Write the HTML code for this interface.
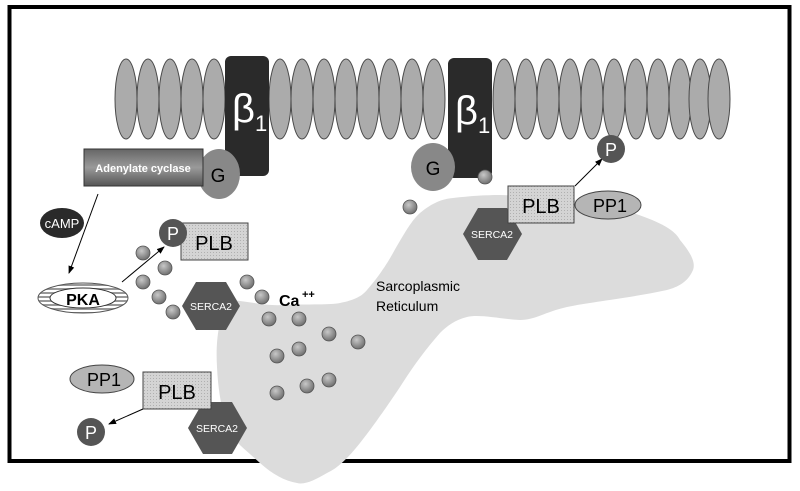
<!DOCTYPE html>
<html><head><meta charset="utf-8"><style>
html,body{margin:0;padding:0;background:#fff;}
svg{display:block;}
text{font-family:"Liberation Sans",sans-serif;}
</style></head><body>
<svg width="800" height="491" viewBox="0 0 800 491" xmlns="http://www.w3.org/2000/svg">
<defs>
<radialGradient id="ca" cx="0.4" cy="0.35" r="0.7"><stop offset="0" stop-color="#c8c8c8"/><stop offset="1" stop-color="#6a6a6a"/></radialGradient>
<linearGradient id="ac" x1="0" y1="0" x2="0" y2="1"><stop offset="0" stop-color="#666"/><stop offset="0.5" stop-color="#9a9a9a"/><stop offset="1" stop-color="#555"/></linearGradient>
<pattern id="dots" width="3" height="3" patternUnits="userSpaceOnUse"><rect width="3" height="3" fill="#d4d4d4"/><rect width="1" height="1" fill="#b0b0b0"/></pattern>
<pattern id="stripe" width="4" height="4" patternUnits="userSpaceOnUse"><rect width="4" height="4" fill="#fff"/><rect width="4" height="2" fill="#999"/></pattern>
<marker id="ar" markerWidth="8" markerHeight="8" refX="7" refY="4" orient="auto" markerUnits="userSpaceOnUse"><path d="M0,1 L8,4 L0,7 z" fill="#000"/></marker>
</defs>
<rect x="9.5" y="7" width="780" height="454" fill="#fff" stroke="#000" stroke-width="4"/>
<!-- SR blob -->
<path d="M233,300 C255,303 270,306 283,305 C310,304 330,305 340,303 C355,300 362,296 367,290 C380,275 388,262 393,253 C405,232 412,220 420,213 C432,203 442,199 453,198 C470,196 485,195 500,195 C560,197 610,203 633,213 C660,222 675,230 680,240 C690,252 696,262 693,270 C688,282 678,287 667,290 C630,298 590,302 567,307 C545,312 535,320 520,320 C500,319 480,314 467,317 C455,320 447,326 440,333 C425,350 412,368 400,387 C388,405 372,428 360,443 C348,458 338,468 327,473 C315,480 305,485 297,483 C285,481 272,474 260,463 C248,452 236,443 230,433 C222,415 218,390 217,367 C216,350 217,335 220,323 C222,312 226,303 233,300 Z" fill="#dcdcdc"/>
<!-- membrane -->
<g fill="#ababab" stroke="#4a4a4a" stroke-width="1">
<ellipse cx="126" cy="99" rx="11" ry="40"/><ellipse cx="148" cy="99" rx="11" ry="40"/><ellipse cx="170" cy="99" rx="11" ry="40"/><ellipse cx="192" cy="99" rx="11" ry="40"/><ellipse cx="214" cy="99" rx="11" ry="40"/><ellipse cx="280" cy="99" rx="11" ry="40"/><ellipse cx="302" cy="99" rx="11" ry="40"/><ellipse cx="324" cy="99" rx="11" ry="40"/><ellipse cx="346" cy="99" rx="11" ry="40"/><ellipse cx="368" cy="99" rx="11" ry="40"/><ellipse cx="390" cy="99" rx="11" ry="40"/><ellipse cx="412" cy="99" rx="11" ry="40"/><ellipse cx="434" cy="99" rx="11" ry="40"/><ellipse cx="504" cy="99" rx="11" ry="40"/><ellipse cx="526" cy="99" rx="11" ry="40"/><ellipse cx="548" cy="99" rx="11" ry="40"/><ellipse cx="570" cy="99" rx="11" ry="40"/><ellipse cx="592" cy="99" rx="11" ry="40"/><ellipse cx="614" cy="99" rx="11" ry="40"/><ellipse cx="636" cy="99" rx="11" ry="40"/><ellipse cx="658" cy="99" rx="11" ry="40"/><ellipse cx="680" cy="99" rx="11" ry="40"/><ellipse cx="700" cy="99" rx="11" ry="40"/><ellipse cx="719" cy="99" rx="11" ry="40"/>
</g>
<!-- beta receptors -->
<rect x="225" y="56" width="44" height="120" rx="6" fill="#2a2a2a"/>
<text x="232" y="122" font-family="Liberation Serif,serif" font-size="40" fill="#fff">β</text><text x="255" y="131" font-family="Liberation Serif,serif" font-size="22" fill="#fff">1</text>
<rect x="448" y="58" width="44" height="120" rx="6" fill="#2a2a2a"/>
<text x="455" y="124" font-family="Liberation Serif,serif" font-size="40" fill="#fff">β</text><text x="478" y="133" font-family="Liberation Serif,serif" font-size="22" fill="#fff">1</text>
<!-- adenylate cyclase + G -->
<ellipse cx="219" cy="174" rx="21" ry="25" fill="#888"/>
<rect x="84" y="149" width="119" height="37" fill="url(#ac)" stroke="#333"/>
<text x="143" y="172" font-size="11" font-weight="bold" fill="#fff" text-anchor="middle">Adenylate cyclase</text>
<text x="218" y="182" font-size="19" text-anchor="middle">G</text>
<ellipse cx="433" cy="167" rx="22" ry="24" fill="#888"/>
<text x="433" y="175" font-size="19" text-anchor="middle">G</text>
<!-- cAMP / PKA -->
<ellipse cx="62" cy="223" rx="22" ry="15" fill="#2a2a2a"/>
<text x="62" y="228" font-size="13" fill="#fff" text-anchor="middle">cAMP</text>
<line x1="98" y1="194" x2="69" y2="273" stroke="#000" marker-end="url(#ar)"/>
<ellipse cx="83" cy="298" rx="45" ry="15" fill="url(#stripe)" stroke="#555"/>
<ellipse cx="83" cy="298" rx="33" ry="10" fill="#fff" stroke="#333"/>
<text x="83" y="305" font-size="16" font-weight="bold" text-anchor="middle">PKA</text>
<line x1="122" y1="282" x2="164" y2="247" stroke="#000" marker-end="url(#ar)"/>
<!-- upper-left PLB -->
<rect x="181" y="223" width="67" height="37" fill="url(#dots)" stroke="#444"/>
<text x="214" y="250" font-size="20" text-anchor="middle">PLB</text>
<circle cx="173" cy="233" r="14" fill="#555"/>
<text x="173" y="240" font-size="18" fill="#fff" text-anchor="middle">P</text>
<!-- hexes -->
<g fill="#555">
<polygon points="182,306 196,282 226,282 240,306 226,330 196,330"/>
<polygon points="463,234 478,208 507,208 522,234 507,260 478,260"/>
<polygon points="188,428 203,402 232,402 247,428 232,454 203,454"/>
</g>
<g font-size="10.5" fill="#fff" text-anchor="middle" font-family="Liberation Sans,sans-serif">
<text x="211" y="310">SERCA2</text><text x="492" y="238">SERCA2</text><text x="217" y="432">SERCA2</text>
</g>
<!-- right PLB -->
<ellipse cx="608" cy="205" rx="33" ry="14" fill="#b5b5b5" stroke="#444"/>
<text x="610" y="212" font-size="18" text-anchor="middle">PP1</text>
<rect x="508" y="186" width="66" height="37" fill="url(#dots)" stroke="#444"/>
<text x="541" y="213" font-size="20" text-anchor="middle">PLB</text>
<line x1="575" y1="186" x2="602" y2="159" stroke="#000" marker-end="url(#ar)"/>
<circle cx="611" cy="149" r="14" fill="#555"/>
<text x="611" y="156" font-size="18" fill="#fff" text-anchor="middle">P</text>
<!-- lower-left PLB -->
<ellipse cx="102" cy="379" rx="32" ry="14" fill="#b5b5b5" stroke="#444"/>
<text x="104" y="386" font-size="18" text-anchor="middle">PP1</text>
<rect x="143" y="372" width="68" height="37" fill="url(#dots)" stroke="#444"/>
<text x="177" y="399" font-size="20" text-anchor="middle">PLB</text>
<line x1="143" y1="409" x2="109" y2="424" stroke="#000" marker-end="url(#ar)"/>
<circle cx="91" cy="432" r="14" fill="#555"/>
<text x="91" y="439" font-size="18" fill="#fff" text-anchor="middle">P</text>
<!-- calcium -->
<g fill="url(#ca)" stroke="#555" stroke-width="0.8">
<circle cx="143" cy="253" r="7"/><circle cx="165" cy="268" r="7"/><circle cx="143" cy="282" r="7"/><circle cx="159" cy="297" r="7"/><circle cx="173" cy="312" r="7"/><circle cx="247" cy="282" r="7"/><circle cx="262" cy="297" r="7"/>
<circle cx="269" cy="319" r="7"/><circle cx="299" cy="319" r="7"/><circle cx="329" cy="334" r="7"/><circle cx="358" cy="342" r="7"/><circle cx="277" cy="356" r="7"/><circle cx="299" cy="349" r="7"/><circle cx="277" cy="393" r="7"/><circle cx="307" cy="386" r="7"/><circle cx="329" cy="380" r="7"/>
<circle cx="485" cy="177" r="7"/><circle cx="410" cy="207" r="7"/>
</g>
<text x="279" y="306" font-size="16" font-weight="bold">Ca</text><text x="302" y="298" font-size="11" font-weight="bold">++</text>
<text x="376" y="291" font-size="14">Sarcoplasmic</text>
<text x="376" y="311" font-size="14">Reticulum</text>
</svg>
</body></html>
